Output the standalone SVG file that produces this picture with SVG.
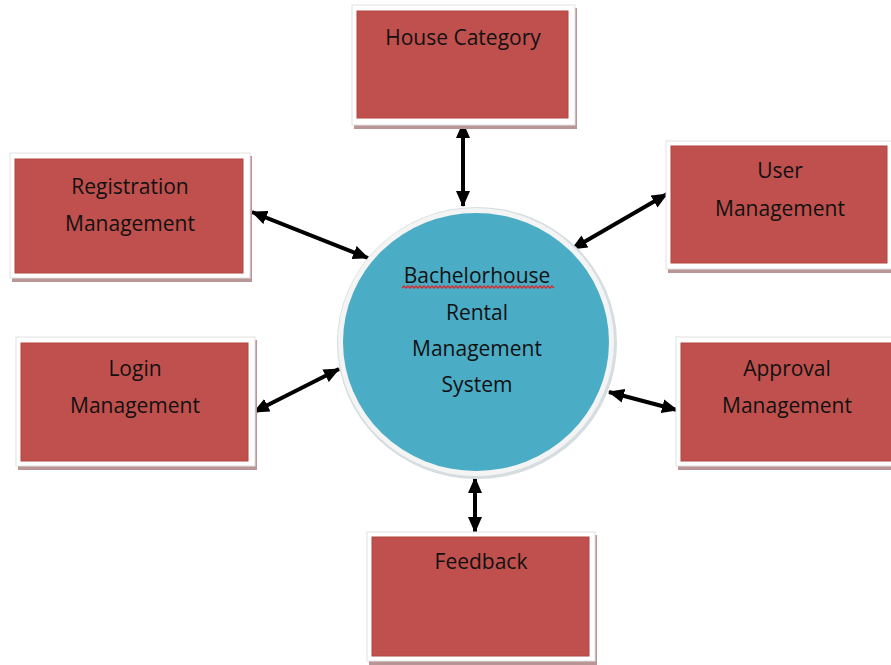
<svg xmlns="http://www.w3.org/2000/svg" width="891" height="665" viewBox="0 0 891 665">
<defs>
<style>
.frame{fill:#ffffff;stroke:#e2e2e2;stroke-width:1}
.shadow{fill:#b99595}
.box{fill:#c0504d;stroke:#b0463f;stroke-width:1}
.lbl{font-family:"Open Sans","Liberation Sans",sans-serif;font-size:21px;fill:#111111;text-anchor:middle}
.conn{stroke:#000;stroke-width:4;fill:none;marker-start:url(#ah);marker-end:url(#ah)}
</style>
<marker id="ah" viewBox="0 0 16 14" refX="15" refY="7" markerWidth="16" markerHeight="14" markerUnits="userSpaceOnUse" orient="auto-start-reverse">
<path d="M0,0 L16,7 L0,14 Z" fill="#000"/>
</marker>
</defs>
<rect width="891" height="665" fill="#ffffff"/>

<g id="connectors">
<line class="conn" x1="463" y1="123" x2="463" y2="206"/>
<line class="conn" x1="252" y1="212" x2="368" y2="258"/>
<line class="conn" x1="667" y1="194" x2="572" y2="249"/>
<line class="conn" x1="254" y1="412" x2="339" y2="369"/>
<line class="conn" x1="609" y1="392" x2="677" y2="410"/>
<line class="conn" x1="475" y1="478" x2="475" y2="532"/>
</g>

<g id="center">
<ellipse cx="477" cy="343" rx="140" ry="136" fill="#d5dde0"/>
<ellipse cx="476" cy="342" rx="138" ry="134" fill="#f4f4f4"/>
<ellipse cx="476" cy="342" rx="133" ry="129" fill="#4bacc6"/>
<text class="lbl" x="477" y="283">Bachelorhouse</text>
<path d="M402,288
l2,-2 l2,2 l2,-2 l2,2
l2,-2 l2,2 l2,-2 l2,2
l2,-2 l2,2 l2,-2 l2,2
l2,-2 l2,2 l2,-2 l2,2
l2,-2 l2,2 l2,-2 l2,2
l2,-2 l2,2 l2,-2 l2,2
l2,-2 l2,2 l2,-2 l2,2
l2,-2 l2,2 l2,-2 l2,2
l2,-2 l2,2 l2,-2 l2,2
l2,-2 l2,2 l2,-2 l2,2
l2,-2 l2,2 l2,-2 l2,2
l2,-2 l2,2 l2,-2 l2,2
l2,-2 l2,2 l2,-2 l2,2
l2,-2 l2,2 l2,-2 l2,2
l2,-2 l2,2 l2,-2 l2,2
l2,-2 l2,2 l2,-2 l2,2
l2,-2 l2,2 l2,-2 l2,2
l2,-2 l2,2 l2,-2 l2,2
l2,-2 l2,2 l2,-2 l2,2" fill="none" stroke="#d82828" stroke-width="1.3"/>
<text class="lbl" x="477" y="320">Rental</text>
<text class="lbl" x="477" y="356">Management</text>
<text class="lbl" x="477" y="392">System</text>
</g>

<g id="house-category">
<rect class="shadow" x="354" y="8" width="223" height="121"/>
<rect class="frame" x="352" y="5" width="223" height="120"/>
<rect class="box" x="357" y="11" width="211" height="107"/>
<text class="lbl" x="463" y="45">House Category</text>
</g>

<g id="registration">
<rect class="shadow" x="12" y="156" width="240" height="126"/>
<rect class="frame" x="10" y="153" width="240" height="125"/>
<rect class="box" x="15" y="159" width="228" height="114"/>
<text class="lbl" x="130" y="194">Registration</text>
<text class="lbl" x="130" y="231">Management</text>
</g>

<g id="user">
<rect class="shadow" x="668" y="144" width="230" height="129"/>
<rect class="frame" x="666" y="141" width="230" height="128"/>
<rect class="box" x="671" y="146" width="216" height="117"/>
<text class="lbl" x="780" y="178">User</text>
<text class="lbl" x="780" y="216">Management</text>
</g>

<g id="login">
<rect class="shadow" x="18" y="340" width="239" height="130"/>
<rect class="frame" x="16" y="337" width="239" height="129"/>
<rect class="box" x="21" y="343" width="227" height="118"/>
<text class="lbl" x="135" y="376">Login</text>
<text class="lbl" x="135" y="413">Management</text>
</g>

<g id="approval">
<rect class="shadow" x="678" y="340" width="230" height="130"/>
<rect class="frame" x="676" y="337" width="230" height="129"/>
<rect class="box" x="681" y="343" width="220" height="118"/>
<text class="lbl" x="787" y="376">Approval</text>
<text class="lbl" x="787" y="413">Management</text>
</g>

<g id="feedback">
<rect class="shadow" x="369" y="535" width="228" height="130"/>
<rect class="frame" x="367" y="532" width="228" height="129"/>
<rect class="box" x="372" y="537" width="217" height="119"/>
<text class="lbl" x="481" y="569">Feedback</text>
</g>
</svg>
